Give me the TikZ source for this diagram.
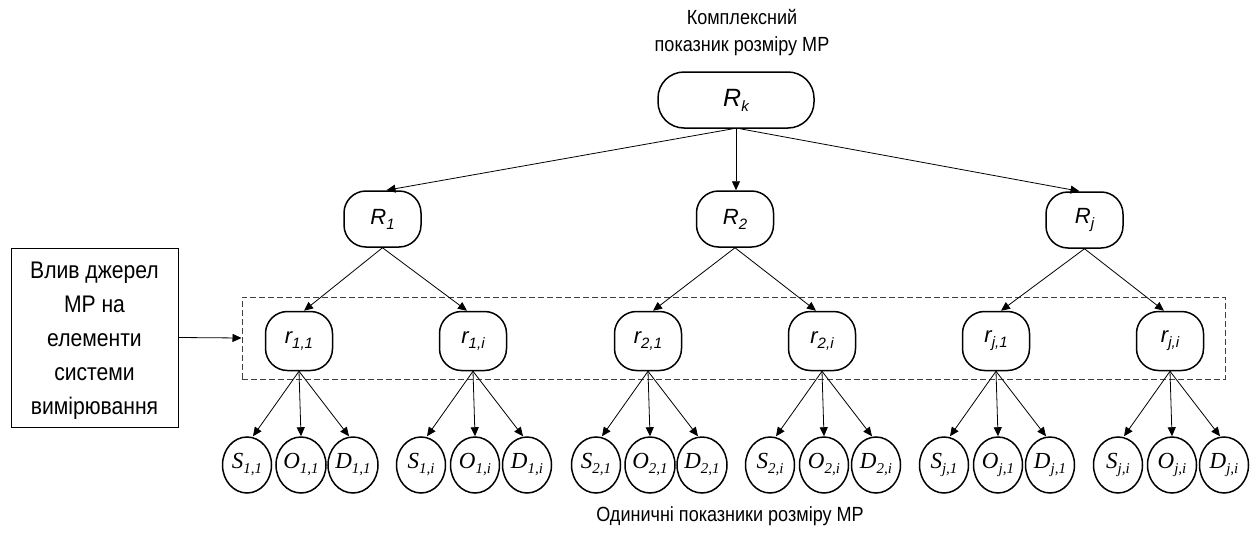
\documentclass[tikz,border=0pt]{standalone}
\usepackage{fontspec}
\setmainfont{Liberation Sans}
\newfontfamily\condsans[FakeStretch=0.88]{Liberation Sans}
\newfontfamily\leafserif{Liberation Serif}
\usetikzlibrary{arrows.meta,shapes.geometric}

% index labels: italic letter with a lowered, smaller subscript
\newcommand{\idx}[2]{\textit{#1\raisebox{-5pt}{\fontsize{15}{15}\selectfont #2}}}
\newcommand{\leafidx}[2]{{\leafserif\itshape #1\raisebox{-5pt}{\fontsize{15}{15}\selectfont #2}}}

\tikzset{
  rnode/.style={draw, line width=1.5pt, rounded corners=22pt, minimum width=77pt,
    minimum height=56pt, inner sep=0pt, font=\fontsize{22}{22}\selectfont},
  subnode/.style={rnode, minimum width=67pt, minimum height=59pt},
  leaf/.style={draw, ellipse, line width=1.5pt, minimum width=49pt,
    minimum height=56pt, inner sep=0pt, font=\fontsize{23}{23}\selectfont},
  link/.style={-{Triangle[length=9pt,width=8pt]}, line width=0.8pt},
  caption/.style={font=\condsans\fontsize{20.5}{27}\selectfont, align=center},
  group/.style={draw=black!75, line width=1pt, dash pattern=on 6pt off 3pt,
    minimum width=983pt, minimum height=82pt, inner sep=0pt},
  sourcebox/.style={draw, line width=1pt, minimum width=167pt, minimum height=179pt,
    align=center, inner sep=0pt, font=\condsans\fontsize{24}{34}\selectfont},
}

\begin{document}
\begin{tikzpicture}[x=1pt,y=-1pt]
  \useasboundingbox (0,0) rectangle (1254,549);

  % captions
  \node[caption] (title) at (742,33) {Комплексний\\показник розміру МР};
  \node[caption] (bottom) at (730,516) {Одиничні показники розміру МР};

  % complex index and group indices
  \node[rnode, minimum width=156pt, rounded corners=26pt, font=\fontsize{25}{25}\selectfont]
    (Rk) at (736,100) {\idx{R}{k}};
  \node[rnode] (R1) at (382.5,219) {\idx{R}{1}};
  \node[rnode] (R2) at (735,219) {\idx{R}{2}};
  \node[rnode] (Rj) at (1084.5,220) {\idx{R}{j}};

  \draw[link] ([xshift=-3pt]Rk.south) -- ([xshift=4pt]R1.north);
  \draw[link] (Rk.south) -- ([xshift=1pt]R2.north);
  \draw[link] ([xshift=4pt]Rk.south) -- ([xshift=-5pt]Rj.north);

  % influence of sources on the measuring system elements
  \node[group] (grp) at (733.5,338) {};
  \node[sourcebox] (infl) at (94.5,337.5)
    {\rule{0pt}{23pt}Влив джерел\\МР на\\елементи\\системи\\вимірювання};
  \draw[link] (infl.east) -- (grp.west);

  % element indices and their single indices S, O, D
  \foreach \n/\x/\p/\sh/\s in {1/299/R1/5/{1,1}, 2/473/R1/-6/{1,i},
                               3/648/R2/5/{2,1}, 4/822/R2/-6/{2,i},
                               5/996/Rj/5/{j,1}, 6/1170/Rj/-6/{j,i}} {
    \node[subnode] (r\n) at (\x,341) {\idx{r}{\s}};
    \draw[link] (\p.south) -- ([xshift=\sh pt]r\n.north);

    \node[leaf] (s\n) at (\x-52,465) {\leafidx{S}{\s}};
    \node[leaf] (o\n) at (\x+2,465) {\leafidx{O}{\s}};
    \node[leaf] (d\n) at (\x+54,465) {\leafidx{D}{\s}};

    \draw[link] (r\n.south) -- ([xshift=6pt]s\n.north);
    \draw[link] (r\n.south) -- (o\n.north);
    \draw[link] (r\n.south) -- ([xshift=-4pt]d\n.north);
  }
\end{tikzpicture}
\end{document}
